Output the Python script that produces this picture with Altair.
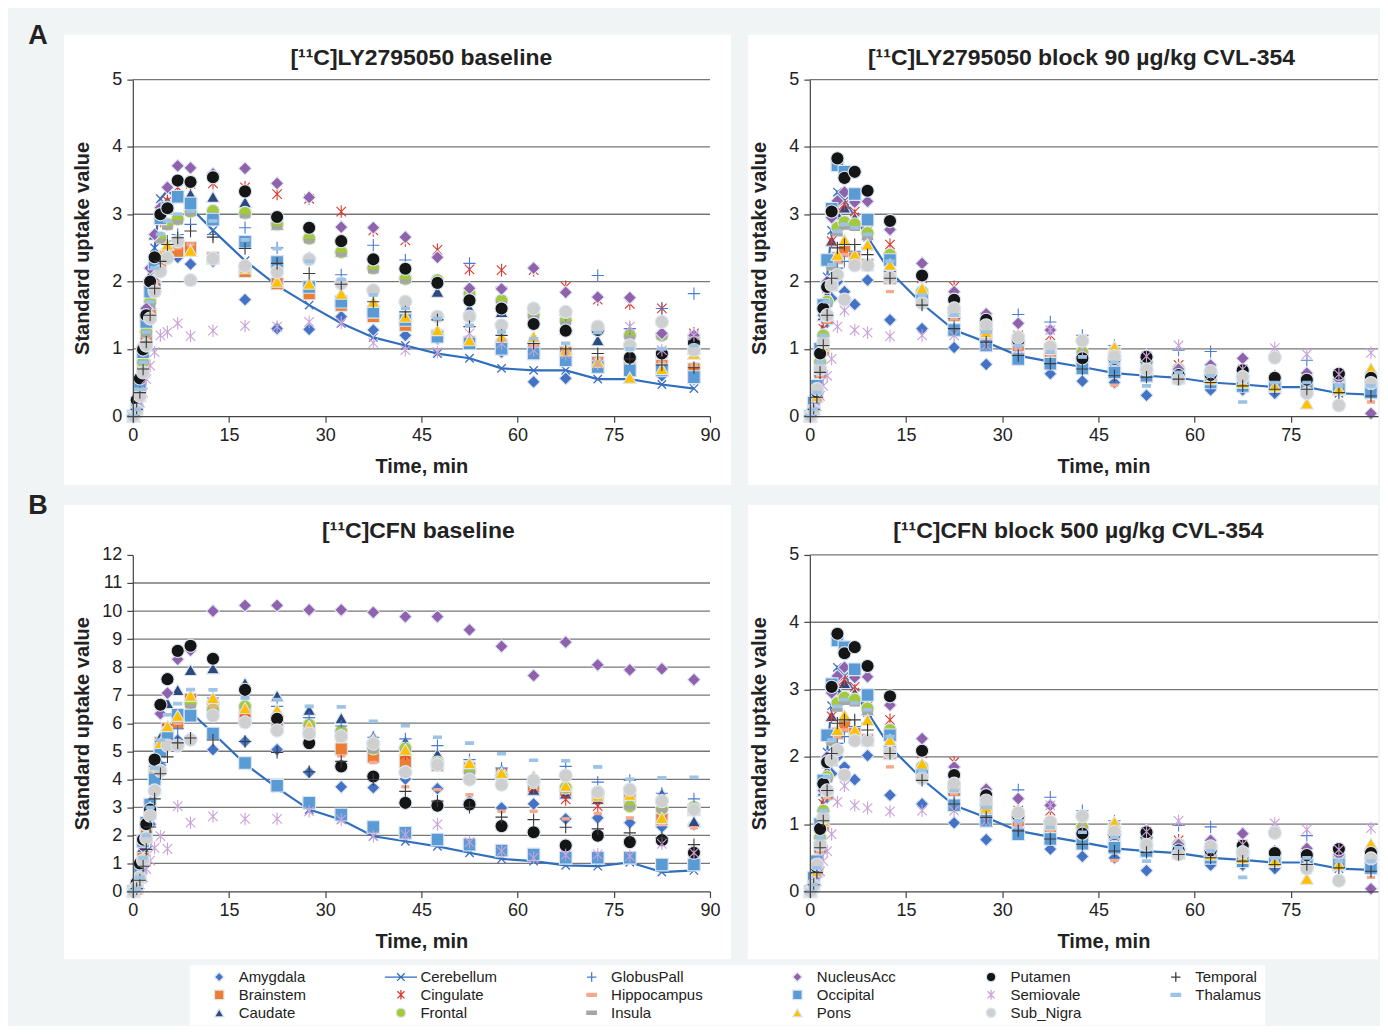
import altair as alt
import pandas as pd

FONT = "Liberation Sans"
BG = "#F1F4F5"
TXT = "#222222"

# Frame mid-times (min)
TIME = [0.1, 0.6, 1.1, 1.6, 2.1, 2.7, 3.4, 4.3, 5.4, 7, 9, 12.5, 17.5, 22.5, 27.5, 32.5,
        37.5, 42.5, 47.5, 52.5, 57.5, 62.5, 67.5, 72.5, 77.5, 82.5, 87.5]

REGIONS = ["Amygdala", "Brainstem", "Caudate", "Cerebellum", "Cingulate", "Frontal",
           "GlobusPall", "Hippocampus", "Insula", "NucleusAcc", "Occipital", "Pons",
           "Putamen", "Semiovale", "Sub_Nigra", "Temporal", "Thalamus"]

# ---------------- [11C]LY2795050 baseline ----------------
ly_base_amygdala = [0.0, 0.1, 0.4, 0.8, 1.2, 1.6, 2.0, 2.3, 2.4, 2.36, 2.26, 2.3, 1.73, 1.30, 1.29, 1.48, 1.28, 1.2, 1.15, 1.1, 0.95, 0.51, 0.56, 0.75, 0.65, 0.6, 0.55]
ly_base_brainstem = [0.0, 0.1, 0.35, 0.7, 1.1, 1.5, 1.9, 2.3, 2.4, 2.45, 2.5, 2.35, 2.15, 1.97, 1.82, 1.65, 1.48, 1.35, 1.2, 1.1, 1.05, 1.0, 0.95, 0.8, 0.75, 0.75, 0.7]
ly_base_caudate = [0.0, 0.15, 0.5, 0.95, 1.5, 2.1, 2.7, 3.1, 3.2, 3.25, 3.3, 3.26, 3.18, 2.85, 2.7, 2.45, 2.25, 2.15, 1.85, 1.6, 1.55, 1.48, 1.3, 1.13, 0.95, 0.95, 1.0]
ly_base_cerebellum = [0.0, 0.15, 0.5, 0.95, 1.45, 2.0, 2.5, 3.23, 3.35, 3.25, 3.1, 2.76, 2.31, 1.94, 1.65, 1.38, 1.17, 1.05, 0.93, 0.86, 0.71, 0.68, 0.68, 0.55, 0.55, 0.47, 0.41]
ly_base_cingulate = [0.0, 0.1, 0.4, 0.85, 1.3, 1.8, 2.3, 2.9, 3.2, 3.4, 3.45, 3.46, 3.4, 3.3, 3.23, 3.04, 2.76, 2.61, 2.47, 2.18, 2.17, 2.17, 1.92, 1.73, 1.67, 1.6, 1.23]
ly_base_frontal = [0.0, 0.1, 0.4, 0.8, 1.25, 1.7, 2.2, 2.65, 2.85, 2.93, 3.04, 3.05, 3.02, 2.85, 2.64, 2.44, 2.2, 2.04, 2.02, 1.82, 1.72, 1.5, 1.42, 1.3, 1.2, 1.2, 1.18]
ly_base_globuspall = [0.0, 0.05, 0.3, 0.65, 1.05, 1.5, 1.95, 2.35, 2.6, 2.7, 2.85, 2.7, 2.8, 2.5, 2.35, 2.1, 2.54, 2.32, 1.95, 2.27, 1.92, 1.6, 1.5, 2.09, 1.3, 1.6, 1.82]
ly_base_hippocampus = [0.0, 0.1, 0.35, 0.7, 1.1, 1.55, 2.0, 2.35, 2.45, 2.5, 2.55, 2.4, 2.2, 2.0, 1.85, 1.7, 1.5, 1.4, 1.25, 1.15, 1.1, 1.05, 1.0, 0.85, 0.8, 0.8, 0.75]
ly_base_insula = [0.0, 0.1, 0.4, 0.8, 1.2, 1.65, 2.15, 2.6, 2.8, 2.88, 3.0, 3.0, 2.97, 2.8, 2.6, 2.4, 2.15, 2.0, 1.98, 1.78, 1.68, 1.47, 1.38, 1.27, 1.17, 1.17, 1.14]
ly_base_nucleusacc = [0.0, 0.15, 0.55, 1.05, 1.6, 2.2, 2.7, 3.1, 3.4, 3.72, 3.69, 3.6, 3.68, 3.46, 3.25, 2.81, 2.8, 2.66, 2.36, 1.9, 1.89, 2.2, 1.84, 1.77, 1.76, 1.23, 1.2]
ly_base_occipital = [0.0, 0.15, 0.5, 0.95, 1.4, 1.85, 2.27, 2.94, 3.1, 3.26, 3.16, 2.92, 2.59, 2.29, 1.92, 1.7, 1.55, 1.43, 1.18, 1.08, 1.0, 0.93, 0.83, 0.73, 0.68, 0.68, 0.58]
ly_base_pons = [0.0, 0.08, 0.3, 0.65, 1.05, 1.5, 1.95, 2.4, 2.55, 2.6, 2.46, 2.35, 2.2, 2.0, 1.97, 1.82, 1.7, 1.48, 1.28, 1.13, 1.18, 1.18, 0.98, 0.81, 0.57, 0.7, 0.93]
ly_base_putamen = [0.0, 0.24, 0.56, 0.99, 1.5, 2.0, 2.36, 3.0, 3.09, 3.5, 3.48, 3.55, 3.34, 2.96, 2.8, 2.6, 2.33, 2.19, 1.98, 1.72, 1.6, 1.37, 1.27, 1.28, 0.87, 0.93, 1.09]
ly_base_semiovale = [0.0, 0.05, 0.2, 0.35, 0.55, 0.75, 0.95, 1.2, 1.25, 1.38, 1.19, 1.27, 1.34, 1.33, 1.4, 1.39, 1.09, 0.98, 0.95, 1.23, 1.08, 0.98, 0.92, 0.78, 1.33, 0.98, 1.2]
ly_base_sub_nigra = [0.0, 0.08, 0.3, 0.65, 1.05, 1.45, 1.85, 2.15, 2.35, 2.6, 2.02, 2.34, 2.23, 2.14, 2.33, 1.97, 1.87, 1.70, 1.48, 1.48, 1.35, 1.6, 1.55, 1.33, 1.05, 1.4, 0.98]
ly_base_temporal = [0.0, 0.1, 0.35, 0.7, 1.1, 1.5, 1.9, 2.3, 2.55, 2.65, 2.75, 2.66, 2.49, 2.27, 2.12, 1.96, 1.7, 1.55, 1.43, 1.33, 1.2, 1.08, 1.0, 0.93, 0.85, 0.76, 0.72]
ly_base_thalamus = [0.0, 0.1, 0.4, 0.8, 1.25, 1.7, 2.2, 2.7, 2.9, 3.0, 3.05, 2.9, 2.62, 2.49, 2.3, 2.03, 1.8, 1.6, 1.45, 1.35, 1.25, 1.15, 1.08, 1.24, 1.0, 1.0, 1.05]

# ---------------- [11C]LY2795050 block 90 ug/kg CVL-354 ----------------
ly_block_amygdala = [0.0, 0.1, 0.3, 0.6, 1.0, 1.4, 1.75, 2.0, 1.85, 1.66, 2.02, 1.43, 1.3, 1.02, 0.77, 0.9, 0.63, 0.52, 0.5, 0.31, 0.55, 0.39, 0.39, 0.34, 0.45, 0.45, 0.35]
ly_block_brainstem = [0.0, 0.1, 0.3, 0.65, 1.0, 1.45, 1.95, 2.35, 2.45, 2.35, 2.25, 2.05, 1.75, 1.5, 1.2, 1.05, 0.95, 0.85, 0.75, 0.7, 0.6, 0.55, 0.5, 0.45, 0.45, 0.45, 0.4]
ly_block_caudate = [0.0, 0.15, 0.4, 0.9, 1.5, 1.8, 2.61, 3.0, 3.1, 2.95, 2.7, 2.4, 1.85, 1.55, 1.35, 1.15, 1.0, 0.9, 0.8, 0.7, 0.65, 0.6, 0.55, 0.5, 0.5, 0.45, 0.45]
ly_block_cerebellum = [0.0, 0.15, 0.45, 1.0, 1.55, 2.07, 2.76, 3.33, 3.2, 2.96, 2.66, 2.15, 1.67, 1.28, 1.1, 0.9, 0.81, 0.73, 0.64, 0.6, 0.57, 0.5, 0.47, 0.43, 0.43, 0.34, 0.32]
ly_block_cingulate = [0.0, 0.1, 0.35, 0.85, 1.3, 1.9, 2.6, 3.1, 3.15, 3.04, 2.75, 2.55, 2.05, 1.92, 1.45, 1.2, 1.2, 1.0, 0.95, 0.85, 0.76, 0.7, 0.6, 0.55, 0.5, 0.6, 0.55]
ly_block_frontal = [0.0, 0.1, 0.35, 0.8, 1.2, 1.7, 2.25, 2.8, 2.88, 2.85, 2.72, 2.4, 1.85, 1.55, 1.3, 1.1, 1.0, 0.95, 0.85, 0.8, 0.7, 0.65, 0.6, 0.55, 0.55, 0.5, 0.5]
ly_block_globuspall = [0.0, 0.1, 0.3, 0.6, 1.0, 1.4, 1.9, 2.2, 2.3, 2.45, 2.5, 2.15, 1.75, 1.45, 1.3, 1.51, 1.4, 1.2, 1.05, 0.8, 0.98, 0.96, 0.7, 0.6, 0.83, 0.6, 0.55]
ly_block_hippocampus = [0.0, 0.1, 0.3, 0.6, 0.95, 1.4, 1.9, 2.3, 2.4, 2.3, 2.2, 1.85, 1.7, 1.45, 1.15, 1.0, 0.9, 0.8, 0.46, 0.65, 0.55, 0.5, 0.45, 0.4, 0.4, 0.4, 0.21]
ly_block_insula = [0.0, 0.1, 0.35, 0.75, 1.15, 1.65, 2.2, 2.7, 2.8, 2.78, 2.65, 2.35, 1.8, 1.5, 1.25, 1.05, 0.95, 0.9, 0.8, 0.75, 0.65, 0.6, 0.55, 0.5, 0.5, 0.45, 0.45]
ly_block_nucleusacc = [0.0, 0.1, 0.4, 0.9, 1.5, 2.0, 2.95, 3.2, 3.33, 3.18, 3.19, 2.77, 2.27, 1.85, 1.52, 1.38, 1.28, 1.1, 1.0, 0.9, 0.7, 0.76, 0.86, 0.55, 0.64, 0.55, 0.04]
ly_block_occipital = [0.0, 0.2, 0.45, 1.0, 1.65, 2.32, 3.08, 3.73, 3.63, 3.3, 2.92, 2.32, 1.75, 1.28, 1.05, 0.85, 0.78, 0.71, 0.65, 0.6, 0.57, 0.5, 0.45, 0.45, 0.42, 0.4, 0.35]
ly_block_pons = [0.0, 0.1, 0.3, 0.7, 1.05, 1.5, 2.0, 2.4, 2.62, 2.4, 2.55, 2.25, 1.9, 1.55, 1.25, 1.15, 1.0, 0.9, 1.03, 0.7, 0.6, 0.55, 0.5, 0.45, 0.19, 0.4, 0.71]
ly_block_putamen = [0.0, 0.1, 0.36, 0.93, 1.6, 1.92, 3.04, 3.83, 3.54, 3.63, 3.35, 2.9, 2.09, 1.73, 1.43, 1.12, 1.03, 0.86, 0.85, 0.88, 0.61, 0.61, 0.68, 0.57, 0.54, 0.63, 0.57]
ly_block_semiovale = [0.0, 0.05, 0.15, 0.3, 0.45, 0.6, 0.85, 1.33, 1.57, 1.28, 1.24, 1.19, 1.2, 1.2, 1.05, 1.0, 1.28, 1.0, 0.9, 0.89, 1.05, 0.61, 0.7, 1.01, 0.92, 0.62, 0.94]
ly_block_sub_nigra = [0.0, 0.08, 0.4, 0.7, 1.1, 1.5, 1.95, 2.1, 1.73, 2.24, 2.24, 2.06, 1.68, 1.6, 1.35, 1.17, 1.03, 1.12, 0.89, 0.69, 0.55, 0.67, 0.58, 0.87, 0.34, 0.16, 0.49]
ly_block_temporal = [0.0, 0.1, 0.28, 0.65, 1.05, 1.5, 2.05, 2.5, 2.55, 2.55, 2.4, 2.05, 1.65, 1.3, 1.1, 0.9, 0.78, 0.7, 0.6, 0.58, 0.55, 0.5, 0.45, 0.4, 0.4, 0.35, 0.3]
ly_block_thalamus = [0.0, 0.1, 0.35, 0.8, 1.2, 1.7, 2.25, 2.75, 2.85, 2.8, 2.7, 2.3, 1.8, 1.5, 1.25, 1.05, 0.95, 0.88, 0.8, 0.45, 0.65, 0.6, 0.21, 0.5, 0.5, 0.45, 0.45]

# ---------------- [11C]CFN baseline ----------------
cfn_base_amygdala = [0.0, 0.1, 0.4, 0.9, 1.6, 2.4, 3.5, 4.5, 5.44, 5.4, 5.4, 5.06, 5.35, 5.06, 4.25, 3.73, 3.7, 4.01, 3.67, 3.22, 2.98, 3.12, 2.59, 2.62, 2.45, 2.3, 2.4]
cfn_base_brainstem = [0.0, 0.1, 0.5, 1.2, 2.0, 3.0, 4.3, 5.3, 5.8, 6.0, 6.85, 6.6, 6.3, 6.07, 5.7, 5.08, 4.8, 4.64, 4.5, 4.4, 4.2, 3.63, 3.5, 3.4, 3.3, 2.56, 2.92]
cfn_base_caudate = [0.0, 0.2, 0.8, 1.6, 2.4, 3.2, 4.5, 5.5, 6.72, 7.19, 7.9, 7.96, 7.43, 6.98, 6.48, 6.18, 5.53, 5.35, 4.9, 4.6, 4.34, 3.63, 3.5, 3.3, 3.2, 3.49, 2.5]
cfn_base_cerebellum = [0.0, 0.2, 0.8, 1.7, 2.4, 3.1, 4.0, 4.9, 5.6, 6.2, 6.4, 5.65, 4.55, 3.69, 2.92, 2.56, 1.97, 1.79, 1.61, 1.38, 1.16, 1.08, 0.93, 0.9, 1.04, 0.69, 0.75]
cfn_base_cingulate = [0.0, 0.1, 0.5, 1.1, 1.9, 2.8, 4.0, 5.0, 5.8, 6.2, 6.8, 6.7, 6.4, 6.1, 5.8, 5.5, 5.2, 4.9, 4.6, 4.3, 4.0, 3.7, 3.28, 3.04, 3.1, 2.9, 2.9]
cfn_base_frontal = [0.0, 0.1, 0.5, 1.0, 1.8, 2.8, 4.0, 5.0, 5.7, 6.2, 6.7, 6.5, 6.6, 6.2, 5.95, 5.71, 5.1, 5.1, 4.6, 4.28, 4.1, 3.9, 3.7, 3.51, 3.04, 2.94, 3.0]
cfn_base_globuspall = [0.0, 0.1, 0.4, 1.0, 1.8, 2.6, 3.8, 4.6, 5.2, 5.8, 6.4, 6.9, 7.13, 6.6, 6.2, 5.9, 5.5, 5.44, 5.2, 4.7, 4.4, 4.0, 4.46, 3.9, 3.96, 3.5, 3.3]
cfn_base_hippocampus = [0.0, 0.1, 0.4, 1.0, 1.7, 2.6, 3.8, 4.9, 5.6, 6.0, 6.9, 6.58, 6.4, 6.0, 5.5, 4.84, 4.6, 3.73, 3.63, 3.45, 2.86, 2.86, 2.59, 2.78, 2.62, 2.41, 2.27]
cfn_base_insula = [0.0, 0.1, 0.5, 1.0, 1.8, 2.7, 3.9, 4.9, 5.6, 6.1, 6.6, 6.4, 6.5, 6.1, 5.85, 5.6, 5.0, 5.0, 4.5, 4.2, 4.0, 3.8, 3.6, 3.4, 3.0, 2.9, 2.9]
cfn_base_nucleusacc = [0.0, 0.25, 0.9, 1.6, 2.3, 3.0, 4.46, 6.34, 7.07, 8.28, 8.6, 10.0, 10.2, 10.2, 10.04, 10.04, 9.95, 9.8, 9.8, 9.33, 8.74, 7.7, 8.89, 8.08, 7.9, 7.94, 7.55]
cfn_base_occipital = [0.0, 0.2, 0.8, 1.8, 2.45, 3.1, 4.0, 5.0, 5.5, 6.3, 6.27, 5.63, 4.58, 3.77, 3.16, 2.74, 2.3, 2.09, 1.85, 1.67, 1.46, 1.32, 1.2, 1.2, 1.2, 0.96, 0.96]
cfn_base_pons = [0.0, 0.1, 0.5, 1.2, 2.0, 3.0, 4.5, 5.3, 5.9, 6.27, 6.98, 6.9, 6.54, 6.48, 5.9, 5.6, 5.41, 5.06, 4.6, 4.58, 4.23, 4.11, 3.77, 3.42, 3.45, 2.62, 2.9]
cfn_base_putamen = [0.0, 0.3, 1.0, 1.85, 2.4, 2.92, 4.7, 6.66, 7.57, 8.58, 8.76, 8.3, 7.19, 6.16, 5.29, 4.46, 4.1, 3.16, 3.06, 3.1, 2.33, 2.11, 1.64, 1.99, 1.76, 1.83, 1.38]
cfn_base_semiovale = [0.0, 0.05, 0.25, 0.5, 0.8, 1.1, 1.55, 1.97, 1.52, 3.04, 2.45, 2.68, 2.59, 2.59, 2.86, 2.56, 1.97, 2.03, 2.39, 1.76, 1.44, 1.2, 1.3, 1.32, 1.26, 1.7, 1.38]
cfn_base_sub_nigra = [0.0, 0.15, 0.5, 1.1, 1.9, 2.7, 3.6, 4.3, 5.2, 5.2, 5.41, 6.27, 6.03, 5.74, 5.63, 5.53, 5.27, 4.25, 4.52, 3.99, 3.81, 3.96, 4.13, 3.54, 3.63, 3.22, 2.92]
cfn_base_temporal = [0.0, 0.1, 0.4, 0.9, 1.5, 2.3, 3.3, 4.2, 4.8, 5.3, 5.47, 5.4, 5.35, 4.96, 4.27, 4.64, 3.99, 3.57, 3.22, 3.0, 2.65, 2.56, 2.29, 2.23, 2.09, 1.9, 1.67]
cfn_base_thalamus = [0.0, 0.1, 0.5, 1.2, 2.0, 3.0, 4.4, 5.4, 6.3, 6.7, 7.2, 7.19, 6.9, 6.84, 6.6, 6.58, 6.07, 5.91, 5.5, 5.29, 4.91, 4.68, 4.66, 4.44, 4.0, 4.05, 4.07]

LY_BASE = [ly_base_amygdala, ly_base_brainstem, ly_base_caudate, ly_base_cerebellum, ly_base_cingulate,
           ly_base_frontal, ly_base_globuspall, ly_base_hippocampus, ly_base_insula, ly_base_nucleusacc,
           ly_base_occipital, ly_base_pons, ly_base_putamen, ly_base_semiovale, ly_base_sub_nigra,
           ly_base_temporal, ly_base_thalamus]
LY_BLOCK = [ly_block_amygdala, ly_block_brainstem, ly_block_caudate, ly_block_cerebellum, ly_block_cingulate,
            ly_block_frontal, ly_block_globuspall, ly_block_hippocampus, ly_block_insula, ly_block_nucleusacc,
            ly_block_occipital, ly_block_pons, ly_block_putamen, ly_block_semiovale, ly_block_sub_nigra,
            ly_block_temporal, ly_block_thalamus]
CFN_BASE = [cfn_base_amygdala, cfn_base_brainstem, cfn_base_caudate, cfn_base_cerebellum, cfn_base_cingulate,
            cfn_base_frontal, cfn_base_globuspall, cfn_base_hippocampus, cfn_base_insula, cfn_base_nucleusacc,
            cfn_base_occipital, cfn_base_pons, cfn_base_putamen, cfn_base_semiovale, cfn_base_sub_nigra,
            cfn_base_temporal, cfn_base_thalamus]
# the CFN block panel in the source figure shows the same curves as the LY block panel
CFN_BLOCK = LY_BLOCK

# ---------------- marker styles ----------------
PLUS = "M-1,0L1,0M0,-1L0,1"
AST = "M-0.75,-0.75L0.75,0.75M-0.75,0.75L0.75,-0.75M0,-1L0,1"
XMARK = "M-0.8,-0.8L0.8,0.8M-0.8,0.8L0.8,-0.8"
DASH = "M-1,-0.32L1,-0.32L1,0.32L-1,0.32Z"
CEREB_LEG = "M-3.4,0L3.4,0M-0.8,-0.8L0.8,0.8M-0.8,0.8L0.8,-0.8"
OUT = "#dce6f2"
CEREB_COLOR = "#2F6FBE"

STYLE = {  # shape, fill, stroke, size
    "Amygdala": ("diamond", "#4472C4", OUT, 170),
    "Brainstem": ("square", "#ED7D31", OUT, 150),
    "Caudate": ("triangle-up", "#2E4A7D", OUT, 170),
    "Cerebellum": (CEREB_LEG, "transparent", CEREB_COLOR, 110),
    "Cingulate": (AST, "transparent", "#DC3A2E", 160),
    "Frontal": ("circle", "#A5C93D", OUT, 170),
    "GlobusPall": (PLUS, "transparent", "#4A7BD0", 150),
    "Hippocampus": (DASH, "#F6A98C", "#F6A98C", 50),
    "Insula": (DASH, "#A6A6A6", "#A6A6A6", 90),
    "NucleusAcc": ("diamond", "#9062AE", OUT, 170),
    "Occipital": ("square", "#5B9BD5", OUT, 160),
    "Pons": ("triangle-up", "#FFC000", OUT, 170),
    "Putamen": ("circle", "#151515", OUT, 175),
    "Semiovale": (AST, "transparent", "#C9A3D8", 160),
    "Sub_Nigra": ("circle", "#CFCFCF", OUT, 175),
    "Temporal": (PLUS, "transparent", "#3A3A3A", 150),
    "Thalamus": (DASH, "#9DC3E6", "#9DC3E6", 65),
}

H = 337
W_LEFT = 578             # 0..90 min
PX_PER_MIN = W_LEFT / 90
W_RIGHT = 569            # right-hand panels are cut by the page edge


def make_df(series):
    rows = []
    for name, vals in zip(REGIONS, series):
        assert len(vals) == len(TIME), name
        for t, v in zip(TIME, vals):
            rows.append({"region": name, "t": t, "v": v, "sz": STYLE[name][3]})
    return pd.DataFrame(rows)


def panel(title, series, ymax, grid_vals, width, rect, title_pos, xtitle_x,
          letter=None, legend=False, anchor=False):
    df = make_df(series)
    xmax = width / PX_PER_MIN
    xvals = [v for v in [0, 15, 30, 45, 60, 75, 90] if v <= xmax + 1e-6]
    xaxis = alt.Axis(values=xvals, grid=False, tickSize=6, tickColor="#444",
                     domainColor="#444", domainWidth=1.2, tickWidth=1.2, labelFontSize=18,
                     labelFont=FONT, labelColor=TXT, labelPadding=4, labelFlush=False,
                     labelOverlap=False, title="Time, min",
                     titleFont=FONT, titleFontSize=20, titleFontWeight="bold", titleColor=TXT,
                     titleX=xtitle_x, titleY=50, titleBaseline="middle", titleAlign="center", zindex=1)
    yaxis = alt.Axis(values=list(range(0, ymax + 1)), grid=False, tickSize=6, tickColor="#444",
                     domainColor="#444", domainWidth=1.2, tickWidth=1.2, labelFontSize=18,
                     labelFont=FONT, labelColor=TXT, labelPadding=5, labelFlush=False,
                     labelOverlap=False, title="Standard uptake value",
                     titleFont=FONT, titleFontSize=20, titleFontWeight="bold", titleColor=TXT,
                     titleX=-50, titleY=H / 2, titleAngle=270, titleBaseline="middle",
                     titleAlign="center", zindex=1)
    X = alt.X("t:Q", scale=alt.Scale(domain=[0, xmax], nice=False, zero=False), axis=xaxis)
    Y = alt.Y("v:Q", scale=alt.Scale(domain=[0, ymax], nice=False), axis=yaxis)
    one = alt.Data(values=[{"a": 1}])

    layers = []
    layers.append(alt.Chart(one).mark_rect(color="white").encode(
        x=alt.value(rect[0]), x2=alt.value(rect[1]), y=alt.value(rect[2]), y2=alt.value(rect[3])))
    layers.append(alt.Chart(pd.DataFrame({"v": grid_vals})).mark_rule(
        color="#777777", strokeWidth=1.3).encode(y=Y))

    cdf = df[df.region == "Cerebellum"]
    sdf = df[df.region != "Cerebellum"]
    layers.append(alt.Chart(cdf).mark_line(color=CEREB_COLOR, strokeWidth=2.2).encode(x=X, y=Y))
    layers.append(alt.Chart(cdf).mark_point(shape=XMARK, filled=False, color="#3E6EC2",
                                            strokeWidth=1.3, size=110, opacity=1).encode(x=X, y=Y))

    dom = REGIONS  # legend fills column by column
    if legend:
        leg = alt.Legend(orient="none", legendX=57, legendY=411, columns=6, title=None,
                         labelFont=FONT, labelFontSize=15, labelColor=TXT, symbolSize=90,
                         symbolStrokeWidth=1.3, columnPadding=69, rowPadding=2, gridAlign="each",
                         fillColor="white", padding=4, symbolOffset=18, labelOffset=12,
                         labelLimit=300)
    else:
        leg = None
    layers.append(alt.Chart(sdf).mark_point(opacity=1, strokeWidth=1.1).encode(
        x=X, y=Y,
        shape=alt.Shape("region:N", scale=alt.Scale(domain=dom, range=[STYLE[r][0] for r in dom]), legend=leg),
        fill=alt.Fill("region:N", scale=alt.Scale(domain=dom, range=[STYLE[r][1] for r in dom]), legend=leg),
        stroke=alt.Stroke("region:N", scale=alt.Scale(domain=dom, range=[STYLE[r][2] for r in dom]), legend=leg),
        size=alt.Size("sz:Q", scale=None),
    ))
    layers.append(alt.Chart(one).mark_text(text=title, font=FONT, fontSize=23, fontWeight="bold",
                                           color=TXT, align="center", baseline="alphabetic").encode(
        x=alt.value(title_pos[0]), y=alt.value(title_pos[1])))
    if letter:
        layers.append(alt.Chart(one).mark_text(text=letter, font=FONT, fontSize=27, fontWeight="bold",
                                               color=TXT, align="center", baseline="middle").encode(
            x=alt.value(-95), y=alt.value(rect[2] + 1)))
    if anchor:
        layers.append(alt.Chart(one).mark_rect(color=BG).encode(
            x=alt.value(-125), x2=alt.value(-122), y=alt.value(-71), y2=alt.value(-68)))

    return alt.layer(*layers).properties(width=width, height=H)


pA1 = panel("[¹¹C]LY2795050 baseline", LY_BASE, 5, [1, 2, 3, 4, 5], W_LEFT,
            (-69, W_LEFT + 21, -45, H + 69), (W_LEFT / 2, -15), W_LEFT / 2, letter="A", anchor=True)
pA2 = panel("[¹¹C]LY2795050 block 90 µg/kg CVL-354", LY_BLOCK, 5, [1, 2, 3, 4, 5], W_RIGHT,
            (-62, W_RIGHT, -45, H + 69), (272, -15), 294)
pB1 = panel("[¹¹C]CFN baseline", CFN_BASE, 12, list(range(1, 12)), W_LEFT,
            (-69, W_LEFT + 21, -50, H + 68), (W_LEFT / 2 - 3, -17), W_LEFT / 2, letter="B", legend=True)
pB2 = panel("[¹¹C]CFN block 500 µg/kg CVL-354", CFN_BLOCK, 5, [1, 2, 3, 4, 5], W_RIGHT,
            (-62, W_RIGHT, -50, H + 68), (269, -17), 294)

chart = alt.concat(pA1, pA2, pB1, pB2, columns=2, spacing={"row": 139, "column": 100},
                   bounds="flush").resolve_scale(
    fill="independent", stroke="independent", shape="independent"
).properties(
    padding={"left": 0, "top": 0, "right": 0, "bottom": 0}
).configure(background=BG).configure_view(stroke=None)

chart.save("out.html", embed_options={"renderer": "svg", "actions": False})
